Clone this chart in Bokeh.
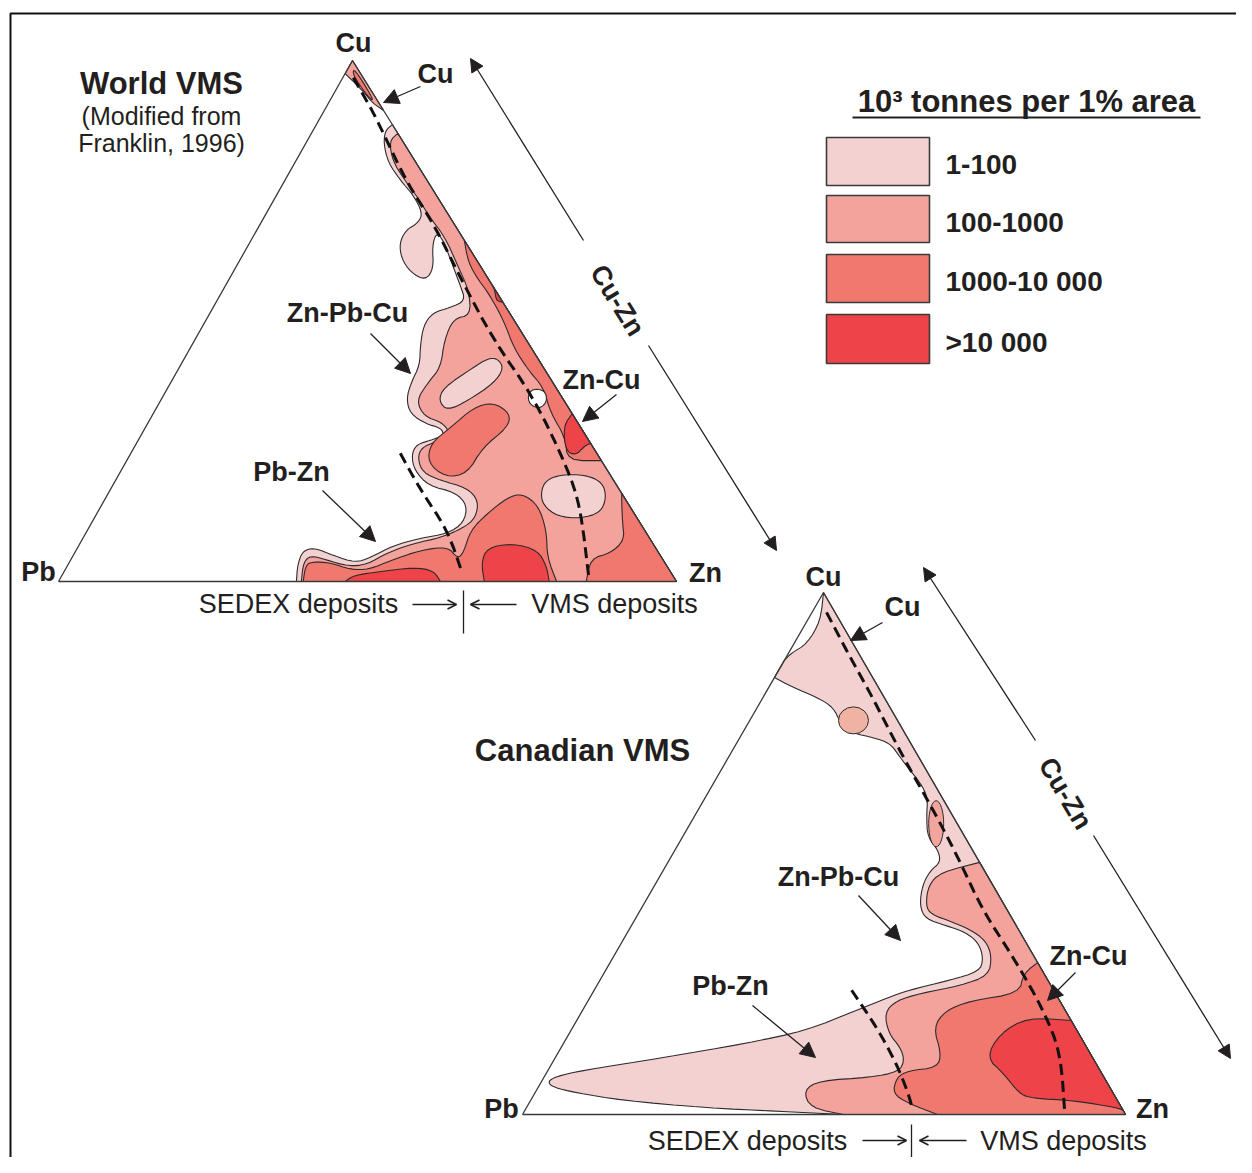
from bokeh.plotting import figure
from bokeh.models import Range1d, Arrow, NormalHead, OpenHead
from bokeh.core.properties import value
from bokeh.embed import file_html
from bokeh.resources import INLINE

FONT = value("Liberation Sans")
INK = "#231F20"

# ---------------- data: tonnage classes ----------------
class_labels = ["1-100", "100-1000", "1000-10 000", ">10 000"]
class_colors = ["#F3D1D1", "#F3A29C", "#F0786F", "#EE4449"]

# ---------------- World VMS (compositions as (Cu %, Zn %); Pb = rest) ----------------
world_apex = [(100, 0), (90.4, 9.6), (91.8, 7.2), (94.2, 4.4), (97.5, 0)]
world_apex_core = [(98.6, 0.9), (93.2, 6.3), (92.2, 7.0), (93.6, 5.2), (97.2, 1.4)]
world_outer = [(87.7, 12.3), (86.6, 11.7), (84.1, 12.6), (80.4, 15.1), (77.0, 18.7), (74.1, 22.2),
               (70.8, 25.2), (68.9, 25.5), (67.4, 24.1), (64.9, 24.3), (62.0, 26.0), (59.3, 28.8),
               (57.8, 31.9), (60.1, 32.1), (64.5, 29.8), (67.0, 29.3), (65.5, 31.1), (60.7, 34.9),
               (56.8, 38.0), (53.9, 40.2), (52.6, 38.4), (51.6, 36.0), (49.1, 35.7), (45.3, 37.0),
               (41.5, 38.7), (38.2, 38.9), (35.1, 39.6), (32.2, 41.6), (30.3, 45.0), (29.4, 48.0),
               (28.0, 49.0), (27.1, 47.3), (26.3, 45.4), (24.2, 45.6), (21.3, 47.5), (18.4, 51.1),
               (17.1, 56.1), (14.6, 59.2), (11.3, 60.2), (9.2, 58.6), (8.3, 54.6), (6.9, 50.9),
               (4.6, 48.3), (3.6, 46.3), (5.0, 42.1), (6.5, 38.2), (5.8, 36.7), (3.1, 37.2),
               (0, 38.5), (0, 100)]
world_mid = [(86.0, 14.0), (84.6, 13.3), (80.8, 15.6), (77.0, 19.4), (73.5, 23.3), (70.2, 26.5),
             (66.2, 31.0), (60.7, 35.7), (55.9, 39.8), (51.1, 42.4), (50.5, 39.9), (46.3, 40.4),
             (41.1, 42.3), (38.0, 41.6), (34.7, 41.4), (31.7, 44.1), (30.5, 47.6), (28.6, 49.7),
             (26.9, 48.4), (25.7, 46.5), (23.6, 46.9), (20.9, 49.0), (19.4, 52.6), (18.0, 57.5),
             (15.5, 60.6), (12.1, 61.7), (10.2, 60.5), (8.4, 57.8), (7.3, 54.0), (5.6, 50.7),
             (3.3, 48.4), (2.9, 45.6), (4.2, 41.2), (5.0, 38.4), (3.6, 37.9), (0, 39.3), (0, 100)]
world_high_strip = [(65.5, 34.5), (61.2, 37.2), (57.8, 40.5), (55.3, 43.3), (50.1, 48.2), (44.9, 52.3),
                    (40.5, 56.8), (37.2, 60.8), (32.4, 64.2), (27.6, 68.9), (23.2, 71.3), (23.2, 76.8)]
world_high_corner = [(16.9, 83.1), (14.6, 84.2), (11.3, 85.9), (7.9, 87.8), (5.4, 86.7), (4.4, 84.0),
                     (0, 85.4), (0, 100)]
world_high_mid = [(34.4, 54.0), (32.2, 57.8), (29.6, 58.6), (25.7, 56.4), (20.7, 56.3), (20.0, 53.1),
                  (22.8, 48.9), (26.5, 47.6), (29.6, 49.4), (33.4, 51.3)]
world_high_base = [(3.1, 38.5), (3.8, 39.3), (3.6, 42.3), (2.3, 46.1), (2.3, 49.1), (4.0, 51.8),
                   (6.0, 55.7), (6.7, 59.8), (4.4, 62.5), (5.6, 62.9), (9.8, 62.0), (13.1, 63.2),
                   (16.1, 65.0), (16.9, 67.0), (14.6, 70.7), (9.8, 74.3), (4.6, 76.9), (0, 80.6),
                   (0, 39.6)]
world_top_a = [(6.5, 66.3), (7.3, 70.1), (6.0, 74.7), (2.9, 77.6), (0, 79.4), (0, 68.9), (3.6, 66.7)]
world_top_b = [(1.2, 47.2), (1.9, 51.2), (2.7, 56.2), (2.1, 59.7), (0, 61.8), (0, 46.4)]
world_top_c = [(56.8, 43.2), (55.9, 44.0), (53.9, 45.2), (53.6, 46.4)]
world_top_d = [(32.2, 67.8), (29.9, 67.5), (25.1, 70.1), (24.2, 72.2), (26.1, 72.8), (26.5, 73.5)]
world_low_blob = [(42.8, 50.7), (40.9, 52.6), (38.0, 52.3), (34.7, 49.7), (32.8, 47.3), (34.7, 45.0),
                  (37.2, 44.6), (41.1, 47.6), (42.8, 49.1)]
world_low_oval = [(19.4, 69.6), (20.5, 71.5), (20.5, 75.5), (19.0, 79.0), (16.1, 81.0), (13.2, 81.4),
                  (12.1, 78.7), (12.5, 74.8), (14.6, 71.5), (17.1, 69.9)]
world_gap = [(37.0, 59.1), (36.7, 61.2), (34.7, 62.6), (33.2, 62.2), (33.8, 60.3), (35.5, 59.0)]
world_vms_line = [(96.7, 1.7), (91.0, 7.2), (87.1, 10.7), (76.4, 20.1), (68.7, 28.0), (58.3, 37.3),
                  (46.3, 48.4), (35.3, 60.1), (21.9, 71.9), (14.2, 77.7), (1.2, 85.2)]
world_sedex_line = [(24.6, 43.6), (17.5, 50.3), (9.8, 58.3), (1.7, 64.5)]

# ---------------- Canadian VMS ----------------
canada_outer = [(100, 0), (94.6, 2.2), (90.2, 2.2), (88.3, 0.4), (87.0, 0), (83.7, 0), (81.8, 4.1),
                (79.9, 9.0), (78.0, 12.6), (74.9, 15.4), (73.0, 18.5), (72.2, 22.2), (71.1, 25.5),
                (68.4, 28.5), (65.9, 31.4), (63.4, 34.4), (60.7, 36.9), (56.9, 38.6), (53.1, 40.7),
                (50.6, 43.7), (48.3, 45.2), (46.7, 44.3), (43.9, 44.4), (40.0, 45.9), (37.5, 48.1),
                (36.2, 52.1), (34.9, 56.1), (32.8, 59.3), (29.9, 61.5), (27.4, 62.1), (25.7, 58.0),
                (23.8, 52.1), (22.4, 49.5), (19.9, 45.3), (16.1, 39.1), (13.6, 30.2), (10.9, 17.9),
                (8.4, 5.6), (7.3, 2.0), (6.3, 1.0), (5.2, 2.5), (4.2, 6.7), (2.7, 15.2), (1.3, 29.5),
                (0.6, 42.5), (0, 53.2), (0, 100)]
canada_mid = [(48.3, 51.7), (46.4, 46.2), (43.9, 45.4), (40.0, 46.9), (38.3, 48.7), (37.0, 52.5),
              (35.4, 56.6), (33.3, 60.2), (30.3, 62.7), (26.6, 64.0), (24.7, 60.3), (23.2, 54.4),
              (21.8, 51.1), (19.5, 50.3), (15.5, 53.0), (12.8, 56.3), (10.3, 58.2), (8.2, 58.3),
              (7.1, 54.2), (6.5, 46.0), (4.6, 44.3), (1.3, 47.1), (0, 53.2), (0, 100)]
canada_high = [(29.1, 70.9), (27.0, 69.6), (23.2, 70.8), (21.8, 63.4), (19.9, 60.2), (16.7, 59.8),
               (11.7, 63.6), (9.0, 64.3), (8.4, 59.8), (7.1, 58.5), (4.0, 59.4), (2.1, 63.0),
               (0, 68.8), (0, 100)]
canada_top = [(18.0, 82.0), (18.6, 74.5), (15.5, 71.4), (10.9, 71.5), (7.9, 75.8), (4.0, 80.4),
              (3.1, 82.9), (2.7, 89.9), (1.3, 98.0), (0.8, 99.2)]
canada_oval_big = (75.5, 17.2)
canada_oval_small = (55.7, 40.8)
canada_vms_line = [(96.2, 2.4), (87.5, 10.7), (80.7, 17.4), (68.4, 29.0), (56.9, 40.4), (48.3, 48.5),
                   (39.1, 56.8), (29.5, 67.0), (19.9, 76.5), (11.7, 83.4), (0.8, 89.5)]
canada_sedex_line = [(23.8, 42.7), (16.7, 50.4), (9.8, 57.1), (4.0, 62.0), (1.1, 64.1)]

# ---------------- layout (page pixels) ----------------
T_WORLD = ((58, 581), (676, 581), (352, 60))      # Pb, Zn, Cu corners
T_CANADA = ((522, 1114), (1125, 1114), (823, 592))


def on_edge(pt):
    cu, zn = pt
    return cu <= 0.05 or zn <= 0.05 or cu + zn >= 99.95


def smooth(pts, closed=True, n=2):
    pts = [(float(a), float(b)) for a, b in pts]
    for _ in range(n):
        out = []
        m = len(pts)
        for i in range(m):
            v = pts[i]
            if (not closed and (i == 0 or i == m - 1)) or on_edge(v):
                out.append(v)
                continue
            pv = pts[i - 1]
            nx = pts[(i + 1) % m]
            out.append((0.25 * pv[0] + 0.75 * v[0], 0.25 * pv[1] + 0.75 * v[1]))
            out.append((0.75 * v[0] + 0.25 * nx[0], 0.75 * v[1] + 0.25 * nx[1]))
        pts = out
    return pts


def tern_xy(tri, pts):
    P, Z, C = tri
    xs, ys = [], []
    for cu, zn in pts:
        pb = 100 - cu - zn
        xs.append((pb * P[0] + zn * Z[0] + cu * C[0]) / 100)
        ys.append((pb * P[1] + zn * Z[1] + cu * C[1]) / 100)
    return xs, ys


p = figure(width=1236, height=1157, x_range=Range1d(0, 1236), y_range=Range1d(1157, 0),
           output_backend="svg", toolbar_location=None, min_border=0,
           x_axis_type=None, y_axis_type=None)
p.grid.visible = False
p.outline_line_color = None
p.background_fill_color = "white"

# frame
p.line([10, 10, 1240], [1160, 13, 13], line_color="#111111", line_width=2)

OUT = "#2E2A2B"


def region(tri, pts, color, lw=1.1):
    xs, ys = tern_xy(tri, smooth(pts))
    p.patch(xs, ys, fill_color=color, line_color=OUT, line_width=lw)


world_layers = [
    (world_apex, 1), (world_apex_core, 2), (world_outer, 0), (world_mid, 1),
    (world_high_strip, 2), (world_high_corner, 2), (world_high_mid, 2), (world_high_base, 2),
    (world_top_a, 3), (world_top_b, 3), (world_top_c, 3), (world_top_d, 3),
    (world_low_blob, 0), (world_low_oval, 0),
]
for pts, k in world_layers:
    region(T_WORLD, pts, class_colors[k])
region(T_WORLD, world_gap, "white")

canada_layers = [(canada_outer, 0), (canada_mid, 1), (canada_high, 2), (canada_top, 3)]
for pts, k in canada_layers:
    region(T_CANADA, pts, class_colors[k])

ox, oy = tern_xy(T_CANADA, [canada_oval_big, canada_oval_small])
p.ellipse(x=[ox[0]], y=[oy[0]], width=30, height=27, fill_color="#F0B2A2", line_color=OUT, line_width=1)
p.ellipse(x=[ox[1]], y=[oy[1]], width=15, height=46, fill_color="#F2A59C", line_color=OUT, line_width=1)

# dashed boundaries
for tri, line in [(T_WORLD, world_vms_line), (T_WORLD, world_sedex_line),
                  (T_CANADA, canada_vms_line), (T_CANADA, canada_sedex_line)]:
    xs, ys = tern_xy(tri, smooth(line, closed=False))
    p.line(xs, ys, line_color="#111111", line_width=3, line_dash="11 6")

# triangles
for tri in (T_WORLD, T_CANADA):
    xs = [tri[0][0], tri[1][0], tri[2][0], tri[0][0]]
    ys = [tri[0][1], tri[1][1], tri[2][1], tri[0][1]]
    p.line(xs, ys, line_color="#3A3A3A", line_width=1.3)


def label(x, y, s, size=27, bold=True, align="center", angle=0.0):
    p.text(x=[x], y=[y], text=[s], text_font=FONT, text_font_size=f"{size}px",
           text_font_style="bold" if bold else "normal", text_color=INK,
           text_align=align, text_baseline="middle", angle=angle)


def pointer(x0, y0, x1, y1, size=15):
    p.add_layout(Arrow(end=NormalHead(size=size, fill_color=INK, line_color=INK),
                       x_start=x0, y_start=y0, x_end=x1, y_end=y1,
                       line_color=INK, line_width=1.3))


def small_arrow(x0, y0, x1, y1):
    p.add_layout(Arrow(end=OpenHead(size=9, line_color=INK, line_width=1.6),
                       x_start=x0, y_start=y0, x_end=x1, y_end=y1,
                       line_color=INK, line_width=1.6))


# --- World labels
label(161, 83, "World VMS", size=31)
label(161, 115, "(Modified from", size=25, bold=False)
label(161, 142, "Franklin, 1996)", size=25, bold=False)
label(353, 42, "Cu")
label(38, 571, "Pb")
label(705, 572, "Zn")
label(435, 73, "Cu")
pointer(420, 86, 383, 102)
label(347, 312, "Zn-Pb-Cu")
pointer(370, 333, 410, 373)
label(291, 471, "Pb-Zn")
pointer(322, 490, 375, 541)
label(601, 379, "Zn-Cu")
pointer(616, 394, 582, 421)
label(617, 300, "Cu-Zn", angle=-1.016)
pointer(583, 240, 470, 58, size=13)
pointer(648, 345, 776, 550, size=13)
label(298, 603, "SEDEX deposits", size=27, bold=False)
label(614, 603, "VMS deposits", size=27, bold=False)
small_arrow(412, 604, 456, 604)
small_arrow(516, 604, 470, 604)
p.line([463, 463], [590, 633], line_color=INK, line_width=1.3)

# --- Canadian labels
label(582, 750, "Canadian VMS", size=31)
label(823, 576, "Cu")
label(501, 1108, "Pb")
label(1152, 1108, "Zn")
label(902, 606, "Cu")
pointer(882, 622, 850, 640)
label(838, 876, "Zn-Pb-Cu")
pointer(858, 895, 900, 940)
label(730, 985, "Pb-Zn")
pointer(752, 1005, 815, 1057)
label(1088, 955, "Zn-Cu")
pointer(1075, 972, 1047, 1000)
label(1065, 793, "Cu-Zn", angle=-1.035)
pointer(1035, 740, 923, 567, size=13)
pointer(1093, 835, 1230, 1058, size=13)
label(747, 1140, "SEDEX deposits", size=27, bold=False)
label(1063, 1140, "VMS deposits", size=27, bold=False)
small_arrow(862, 1140, 906, 1140)
small_arrow(966, 1140, 919, 1140)
p.line([911, 911], [1124, 1157], line_color=INK, line_width=1.3)

# --- legend
label(1026, 101, "10³ tonnes per 1% area", size=31)
p.line([852, 1200], [117, 117], line_color=INK, line_width=1.8)
box_tops = [137, 195, 254, 314]
box_bottoms = [185, 242, 302, 363]
for i, lab in enumerate(class_labels):
    p.quad(left=[826], right=[929], top=[box_tops[i]], bottom=[box_bottoms[i]],
           fill_color=class_colors[i], line_color="#3A3A3A", line_width=1.6)
    label(945, (box_tops[i] + box_bottoms[i]) / 2 + 3, lab, size=28, align="left")

open("out.html", "w").write(file_html(p, INLINE))
